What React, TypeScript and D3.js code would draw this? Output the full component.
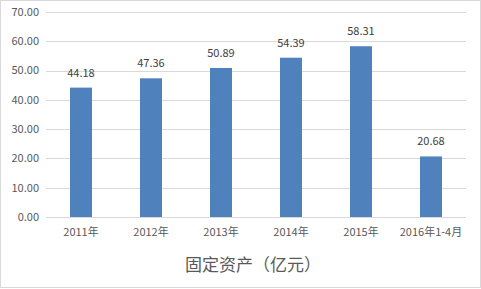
import React from "react";
import * as d3 from "d3";

const categories = ["2011年", "2012年", "2013年", "2014年", "2015年", "2016年1-4月"];
const values = [44.18, 47.36, 50.89, 54.39, 58.31, 20.68];
const yTicks = [0, 10, 20, 30, 40, 50, 60, 70];
const title = "固定资产（亿元）";

const W = 481, H = 289;
const FONT = "'Noto Sans CJK SC', 'Microsoft YaHei', sans-serif";

export default function App() {
  const x = d3.scaleBand<string>().domain(categories).range([46, 466]);
  const y = d3.scaleLinear().domain([0, 70]).range([217, 12]);
  const bw = 22;
  return (
    <svg width={W} height={H} style={{ position: "absolute", left: 0, top: 0 }}>
      <rect x={0.5} y={0.5} width={W - 1} height={H - 2} fill="#fff" stroke="#d9d9d9" />
      {yTicks.map((t) => (
        <g key={t}>
          <line x1={46} x2={466} y1={Math.round(y(t)) + 0.5} y2={Math.round(y(t)) + 0.5} stroke="#d9d9d9" />
          <text x={39} y={y(t)} dy="0.35em" textAnchor="end" fontSize={11} fill="#595959" fontFamily={FONT}>
            {t.toFixed(2)}
          </text>
        </g>
      ))}
      {categories.map((c, i) => {
        const cx = (x(c) as number) + x.bandwidth() / 2;
        return (
          <g key={c}>
            <rect x={cx - bw / 2} y={y(values[i])} width={bw} height={y(0) - y(values[i])} fill="#4f81bd" />
            <text x={cx} y={y(values[i]) - 11} textAnchor="middle" fontSize={11} fill="#404040" fontFamily={FONT}>
              {values[i].toFixed(2)}
            </text>
            <text x={cx} y={232} dy="0.35em" textAnchor="middle" fontSize={11} fill="#595959" fontFamily={FONT}>
              {c}
            </text>
          </g>
        );
      })}
      <text x={253} y={265} dy="0.35em" textAnchor="middle" fontSize={17} fill="#595959" fontFamily={FONT}>
        {title}
      </text>
    </svg>
  );
}
